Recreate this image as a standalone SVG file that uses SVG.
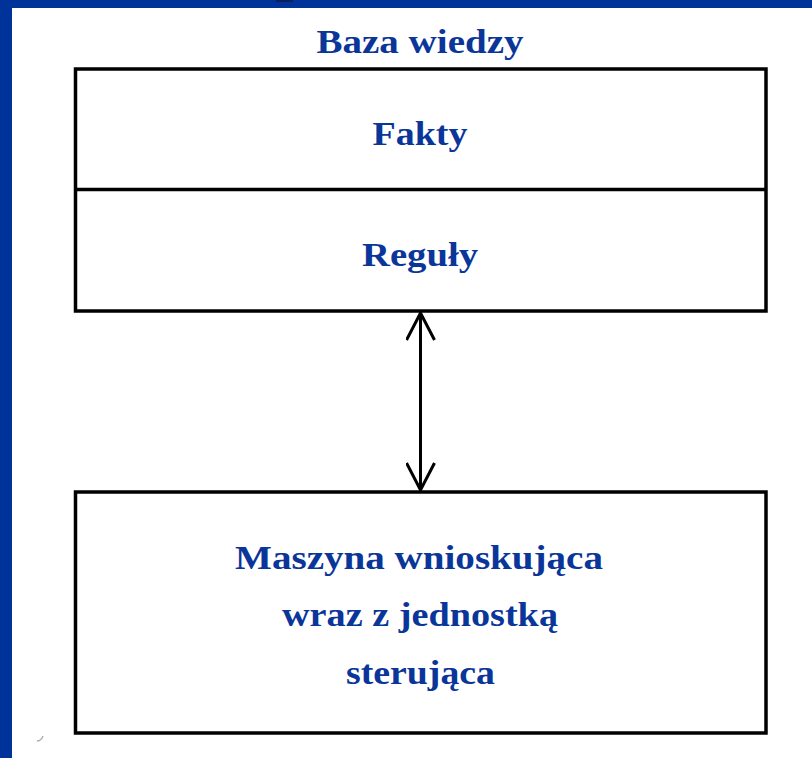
<svg xmlns="http://www.w3.org/2000/svg" width="812" height="758" viewBox="0 0 812 758">
  <style>
    .frame { fill: #003399; }
    .box { fill: #ffffff; stroke: #000000; stroke-width: 3.5; }
    .divider { stroke: #000000; stroke-width: 3.5; }
    .label { font-family: "Liberation Serif", "DejaVu Serif", serif; font-weight: bold; font-size: 34px; fill: #0a3599; text-anchor: middle; }
    .link { stroke: #000000; stroke-width: 3; fill: none; }
    .head { stroke: #000000; stroke-width: 3; fill: none; stroke-linecap: butt; stroke-linejoin: miter; }
  </style>
  <defs>
    <marker id="open-arrow" viewBox="0 0 30 30" refX="28" refY="15" markerWidth="30" markerHeight="30" markerUnits="userSpaceOnUse" orient="auto-start-reverse">
      <path d="M1,1 L28,15 L1,29" class="head"/>
    </marker>
  </defs>

  <!-- page background and blue slide frame -->
  <rect x="0" y="0" width="812" height="758" fill="#ffffff"/>
  <rect class="frame" x="0" y="0" width="812" height="8"/>
  <rect class="frame" x="0" y="0" width="12" height="758"/>
  <rect x="276" y="0" width="17" height="2" fill="#0a1f5c"/>
  <path d="M43,736 q-2,5 -6,5" stroke="#b0b0b0" stroke-width="1.5" fill="none"/>

  <!-- knowledge base title -->
  <text class="label" x="420" y="53" textLength="207" lengthAdjust="spacingAndGlyphs">Baza wiedzy</text>

  <!-- knowledge base: facts + rules -->
  <g id="baza-wiedzy">
    <rect class="box" x="75.5" y="69" width="690.5" height="242"/>
    <line class="divider" x1="75.5" y1="189.5" x2="766" y2="189.5"/>
  </g>
  <g id="fakty">
    <text class="label" x="420" y="145" textLength="95" lengthAdjust="spacingAndGlyphs">Fakty</text>
  </g>
  <g id="reguly">
    <text class="label" x="420" y="266" textLength="116" lengthAdjust="spacingAndGlyphs">Reguły</text>
  </g>

  <!-- inference engine -->
  <g id="maszyna">
    <rect class="box" x="75.5" y="492" width="690.5" height="241"/>
    <text class="label" x="419" y="569" textLength="368" lengthAdjust="spacingAndGlyphs">Maszyna wnioskująca</text>
    <text class="label" x="420" y="626" textLength="276" lengthAdjust="spacingAndGlyphs">wraz z jednostką</text>
    <text class="label" x="420.5" y="684" textLength="149" lengthAdjust="spacingAndGlyphs">sterująca</text>
  </g>

  <!-- connectors -->
  <g id="connectors">
    <line class="link" x1="420.5" y1="313" x2="420.5" y2="490" marker-start="url(#open-arrow)" marker-end="url(#open-arrow)"/>
  </g>
</svg>
